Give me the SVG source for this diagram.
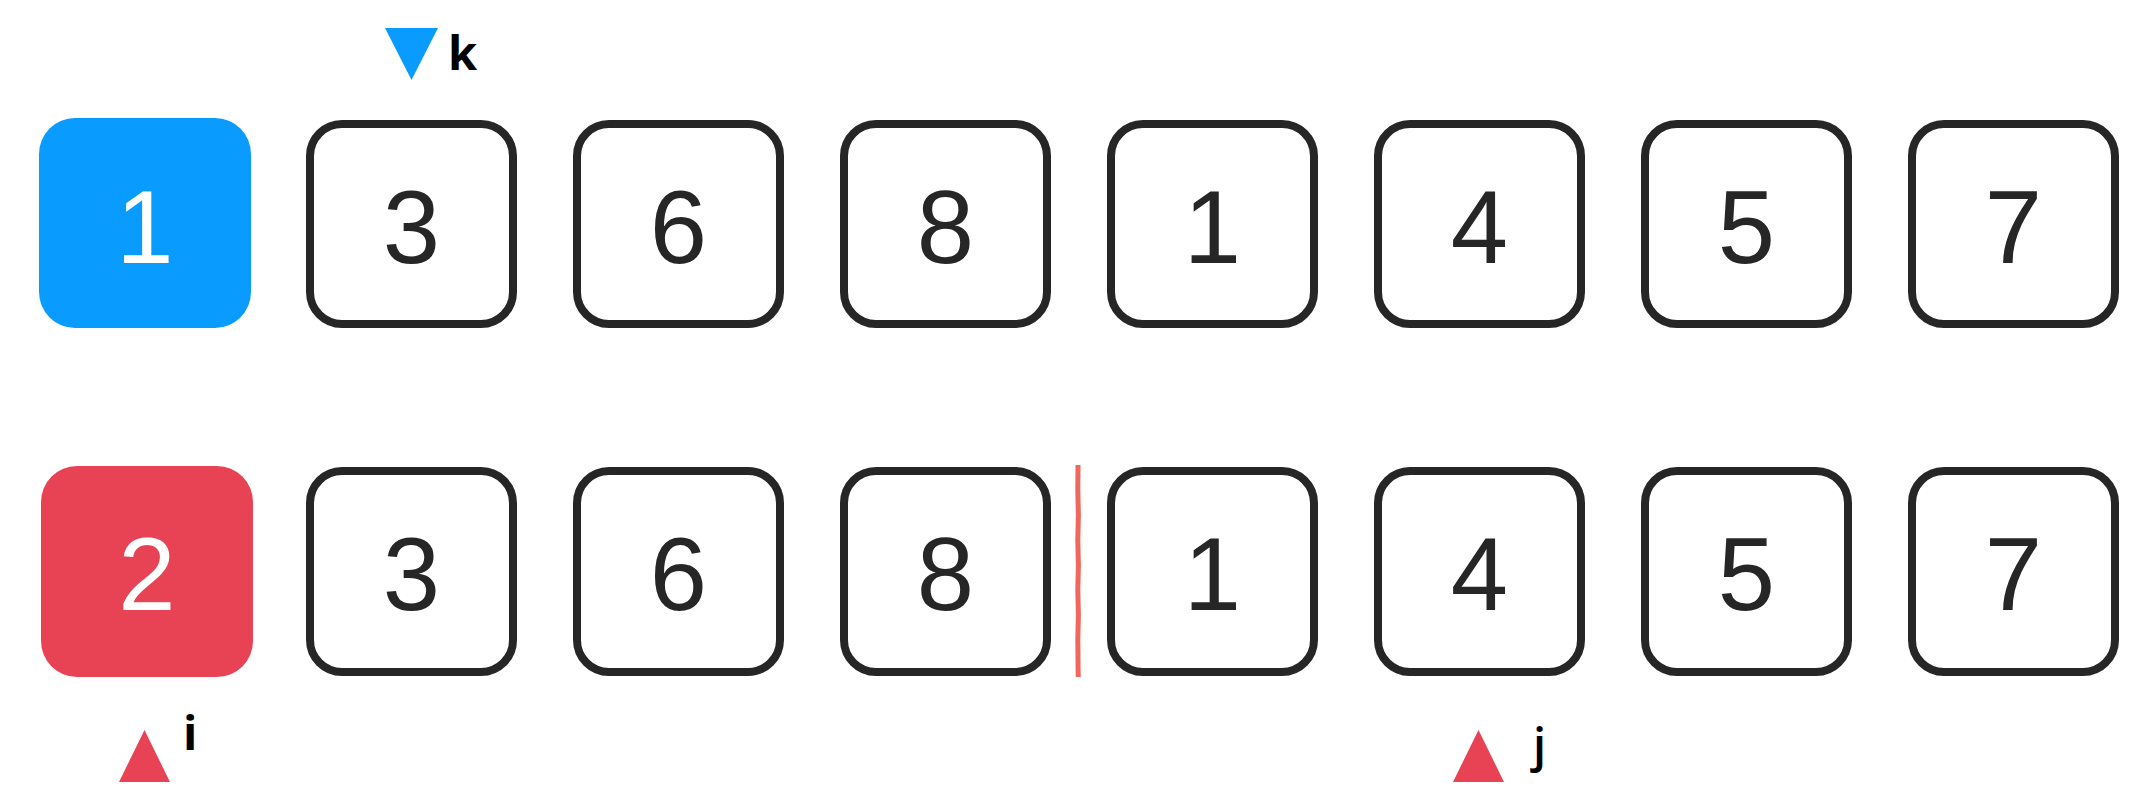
<svg xmlns="http://www.w3.org/2000/svg" width="2151" height="802" viewBox="0 0 2151 802">
<style>
.box{fill:#fff;stroke:#262626;stroke-width:8}
.num{font-family:"Liberation Sans",Arial,sans-serif;font-size:103px;fill:#262626;text-anchor:middle}
.wnum{fill:#fff}
.lbl{font-family:"Open Sans","Noto Sans",sans-serif;font-size:47px;fill:#000}
</style>
<rect width="2151" height="802" fill="#fff"/>
<g id="row1">
<g id="a0"><rect x="39" y="118" width="212" height="210" rx="36" fill="#0a9bff"/><text class="num wnum" x="145" y="263">1</text></g>
<g id="a1"><rect class="box" x="310" y="124" width="203" height="200" rx="32"/><text class="num" x="411.5" y="263">3</text></g>
<g id="a2"><rect class="box" x="577" y="124" width="203" height="200" rx="32"/><text class="num" x="678.5" y="263">6</text></g>
<g id="a3"><rect class="box" x="844" y="124" width="203" height="200" rx="32"/><text class="num" x="945.5" y="263">8</text></g>
<g id="a4"><rect class="box" x="1111" y="124" width="203" height="200" rx="32"/><text class="num" x="1212.5" y="263">1</text></g>
<g id="a5"><rect class="box" x="1378" y="124" width="203" height="200" rx="32"/><text class="num" x="1479.5" y="263">4</text></g>
<g id="a6"><rect class="box" x="1645" y="124" width="203" height="200" rx="32"/><text class="num" x="1746.5" y="263">5</text></g>
<g id="a7"><rect class="box" x="1912" y="124" width="203" height="200" rx="32"/><text class="num" x="2013.5" y="263">7</text></g>
</g>
<g id="row2">
<g id="b0"><rect x="41" y="466" width="212" height="211" rx="36" fill="#e84354"/><text class="num wnum" x="147" y="610">2</text></g>
<g id="b1"><rect class="box" x="310" y="471" width="203" height="201" rx="32"/><text class="num" x="411.5" y="610">3</text></g>
<g id="b2"><rect class="box" x="577" y="471" width="203" height="201" rx="32"/><text class="num" x="678.5" y="610">6</text></g>
<g id="b3"><rect class="box" x="844" y="471" width="203" height="201" rx="32"/><text class="num" x="945.5" y="610">8</text></g>
<g id="b4"><rect class="box" x="1111" y="471" width="203" height="201" rx="32"/><text class="num" x="1212.5" y="610">1</text></g>
<g id="b5"><rect class="box" x="1378" y="471" width="203" height="201" rx="32"/><text class="num" x="1479.5" y="610">4</text></g>
<g id="b6"><rect class="box" x="1645" y="471" width="203" height="201" rx="32"/><text class="num" x="1746.5" y="610">5</text></g>
<g id="b7"><rect class="box" x="1912" y="471" width="203" height="201" rx="32"/><text class="num" x="2013.5" y="610">7</text></g>
</g>
<g id="divider">
<path d="M1078,465 L1077.8,490 L1078.4,515 L1077.8,540 L1078.4,565 L1077.8,590 L1078.4,615 L1077.8,640 L1078.2,677" fill="none" stroke="#f2675b" stroke-width="5"/>
</g>
<g id="pointer-k">
<polygon points="385,28 438,28 411.5,80" fill="#0a9bff"/>
<text class="lbl" x="448" y="70" font-weight="700">k</text>
</g>
<g id="pointer-i">
<polygon points="119,782 170,782 144.5,730" fill="#e84354"/>
<text class="lbl" x="183" y="750" font-weight="700">i</text>
</g>
<g id="pointer-j">
<polygon points="1453,782 1504,782 1478.5,730" fill="#e84354"/>
<text class="lbl" x="1533" y="762" font-weight="600">j</text>
</g>
</svg>
